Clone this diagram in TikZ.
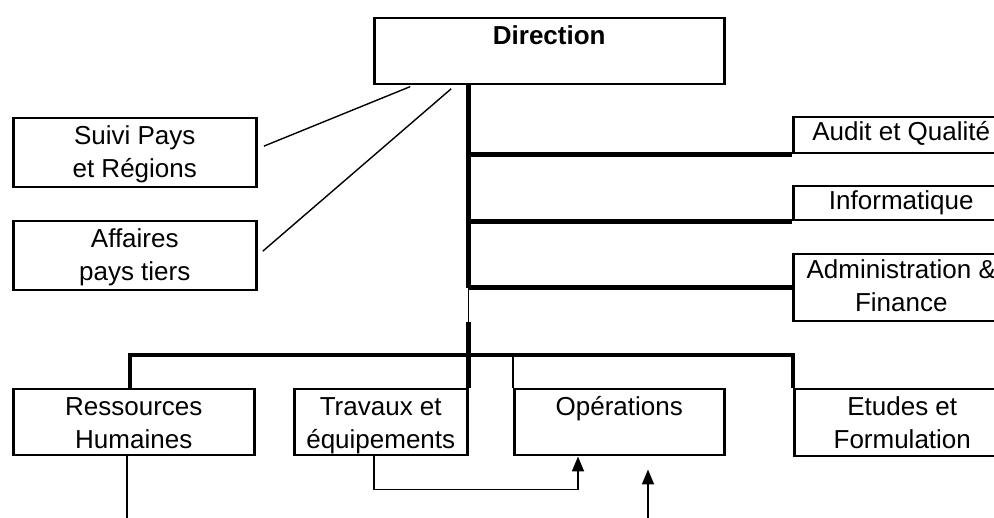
\documentclass[tikz,border=0pt]{standalone}
\usepackage{fontspec}
\setmainfont{Liberation Sans}
\usetikzlibrary{arrows.meta}

\newcommand{\boxfont}{\fontsize{26}{33}\selectfont}

\tikzset{
  unit/.style={draw, line width=2.5pt, inner sep=0pt, anchor=north west,
    align=center, font=\boxfont, text height=26pt, text depth=40pt},
  twoline/.style={text height=59pt, text depth=7pt},
  bold/.style={line width=4.5pt},
  link/.style={line width=1.4pt},
  arr/.style={line width=1.8pt, -{Triangle[length=15pt,width=12pt]}}
}

\begin{document}
\begin{tikzpicture}[x=1pt, y=-1pt]
  \useasboundingbox (0,0) rectangle (994,518);

  \node[unit, minimum width=350pt, font=\boxfont\bfseries] (dir) at (373,17) {Direction};

  \node[unit, twoline, minimum width=243pt, text depth=10pt] (suivi) at (12,117) {Suivi Pays\\et Régions};
  \node[unit, twoline, minimum width=243pt, text depth=10pt] (aff) at (12,220) {Affaires\\pays tiers};

  \node[unit, minimum width=216pt, text height=23pt, text depth=13pt] (audit) at (792,116) {Audit et Qualité};
  \node[unit, minimum width=216pt, text height=23pt, text depth=11pt] (info) at (792,185) {Informatique};
  \node[unit, twoline, minimum width=216pt, text height=57pt, text depth=10pt] (admin) at (792,253) {Administration \&\\Finance};

  \node[unit, twoline, minimum width=241pt] (res) at (12,388) {Ressources\\Humaines};
  \node[unit, twoline, minimum width=173pt] (trav) at (293,388) {Travaux et\\équipements};
  \node[unit, minimum width=210pt] (ops) at (513,388) {Opérations};
  \node[unit, twoline, minimum width=216pt, text depth=8pt] (etu) at (793,388) {Etudes et\\Formulation};

  \draw[link, shorten <=7pt, shorten >=3pt] ([yshift=4pt]suivi.east) -- ([xshift=40pt]dir.south west);
  \draw[link, shorten <=7pt, shorten >=5pt] (aff.east) -- ([xshift=82pt]dir.south west);

  \draw[bold] (trav.north east |- dir.south) -- (trav.north east |- admin.west);
  \draw[link] (trav.north east |- admin.west) -- ([yshift=66pt]trav.north east);
  \draw[bold] ([yshift=66pt]trav.north east) -- (trav.north east);

  \draw[bold] (trav.north east |- audit.south west) -- (audit.south west);
  \draw[bold] (trav.north east |- info.south west) -- (info.south west);
  \draw[bold] (trav.north east |- admin.west) -- (admin.west);

  \draw[bold] ([xshift=-4pt]res.north) |- ([yshift=33pt]etu.north west) -- (etu.north west);
  \draw[link] (ops.north west) -- ++(0,-33);

  \coordinate (rhend) at (127,518);
  \draw[link] (rhend |- res.south) -- (rhend);

  \draw[arr] ([xshift=-7pt]trav.south) -- ++(0,33) -| ([xshift=65pt]ops.south west);

  \coordinate (opsin) at (648,518);
  \draw[arr] (opsin) -- ([yshift=-13pt]opsin |- ops.south);
\end{tikzpicture}
\end{document}
